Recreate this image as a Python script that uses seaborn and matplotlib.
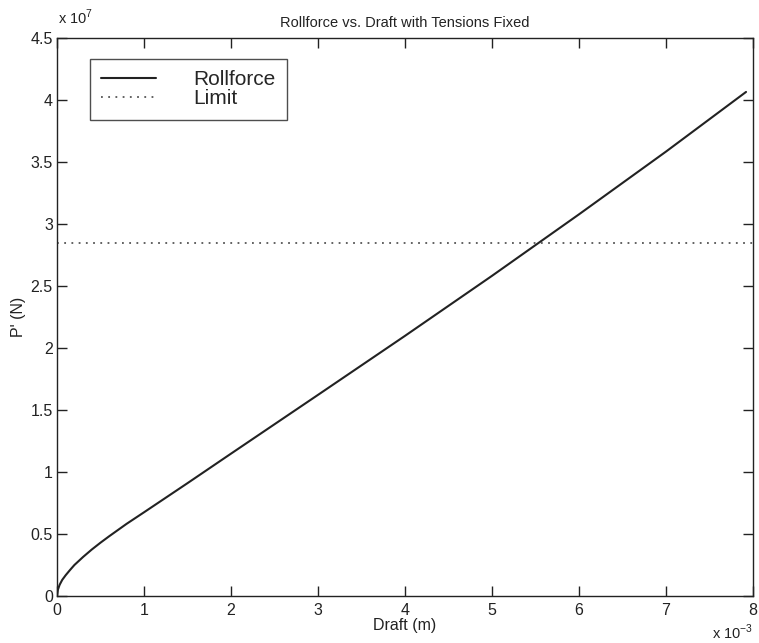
import matplotlib
matplotlib.use("Agg")
import matplotlib.pyplot as plt
import seaborn as sns
import pandas as pd
from matplotlib.ticker import FuncFormatter

# Draft in units of 1e-3 m, Rollforce in units of 1e7 N
draft = [0, 0.01, 0.03, 0.06, 0.1, 0.15, 0.2, 0.3, 0.4, 0.5, 0.6, 0.8, 1.0,
         1.5, 2.0, 3.0, 4.0, 5.0, 6.0, 7.0, 7.92]
rollforce = [0, 0.05, 0.09, 0.13, 0.168, 0.21, 0.25, 0.315, 0.375, 0.43,
             0.482, 0.582, 0.675, 0.91, 1.148, 1.622, 2.098, 2.582, 3.078,
             3.584, 4.065]
limit_x = [0, 8]
limit_y = [2.85, 2.85]
x_ticks = [0, 1, 2, 3, 4, 5, 6, 7, 8]
y_ticks = [0, 0.5, 1, 1.5, 2, 2.5, 3, 3.5, 4, 4.5]

sns.set_theme(style="white")
plt.rcParams['font.family'] = ['Liberation Sans', 'DejaVu Sans']
plt.rcParams['mathtext.fontset'] = 'custom'
plt.rcParams['mathtext.rm'] = 'Liberation Sans'

fig = plt.figure(figsize=(7.59, 6.43), dpi=100)
ax = fig.add_axes([57/759, 47/643, 696/759, 558/643])

df = pd.DataFrame({"x": draft, "y": rollforce})
dl = pd.DataFrame({"x": limit_x, "y": limit_y})
sns.lineplot(data=df, x="x", y="y", ax=ax, color="#222222", linewidth=1.5,
             label="Rollforce", estimator=None, sort=False)
sns.lineplot(data=dl, x="x", y="y", ax=ax, color="#555555", linewidth=1.3,
             linestyle=(0, (1, 3)), label="Limit", estimator=None)

ax.set_xlim(0, 8)
ax.set_ylim(0, 4.5)
ax.set_xticks(x_ticks)
ax.set_yticks(y_ticks)
fmt = FuncFormatter(lambda v, p: "%g" % v)
ax.xaxis.set_major_formatter(fmt)
ax.yaxis.set_major_formatter(fmt)
ax.tick_params(direction="in", length=7, width=1.0, labelsize=11.5,
               top=True, right=True, bottom=True, left=True,
               colors="#222222", pad=3)
ax.tick_params(axis="x", pad=5)
for s in ax.spines.values():
    s.set_visible(True)
    s.set_color("#222222")
    s.set_linewidth(1.0)
ax.grid(False)

ax.set_xlabel("Draft (m)", fontsize=11.5, labelpad=0, color="#222222")
ax.set_ylabel("P' (N)", fontsize=11.5, labelpad=3, color="#222222")
ax.set_title("Rollforce vs. Draft with Tensions Fixed", fontsize=10.5,
             pad=8, color="#222222")

fig.text(58/759, 1 - 17/643, r"x 10$^{7}$", fontsize=10.5, color="#222222",
         ha="left", va="center")
fig.text(712/759, 1 - 632/643, r"x 10$^{-3}$", fontsize=10.5, color="#222222",
         ha="left", va="center")

leg = ax.legend(loc="upper left", bbox_to_anchor=(33/696, 1 - 21/558),
                fontsize=15, frameon=True, fancybox=False, edgecolor="#222222",
                handlelength=2.6, handletextpad=1.8, labelspacing=0.0,
                borderpad=0.55, borderaxespad=0)
leg.get_frame().set_linewidth(1.0)

fig.savefig("out.png", dpi=100, facecolor="white")
